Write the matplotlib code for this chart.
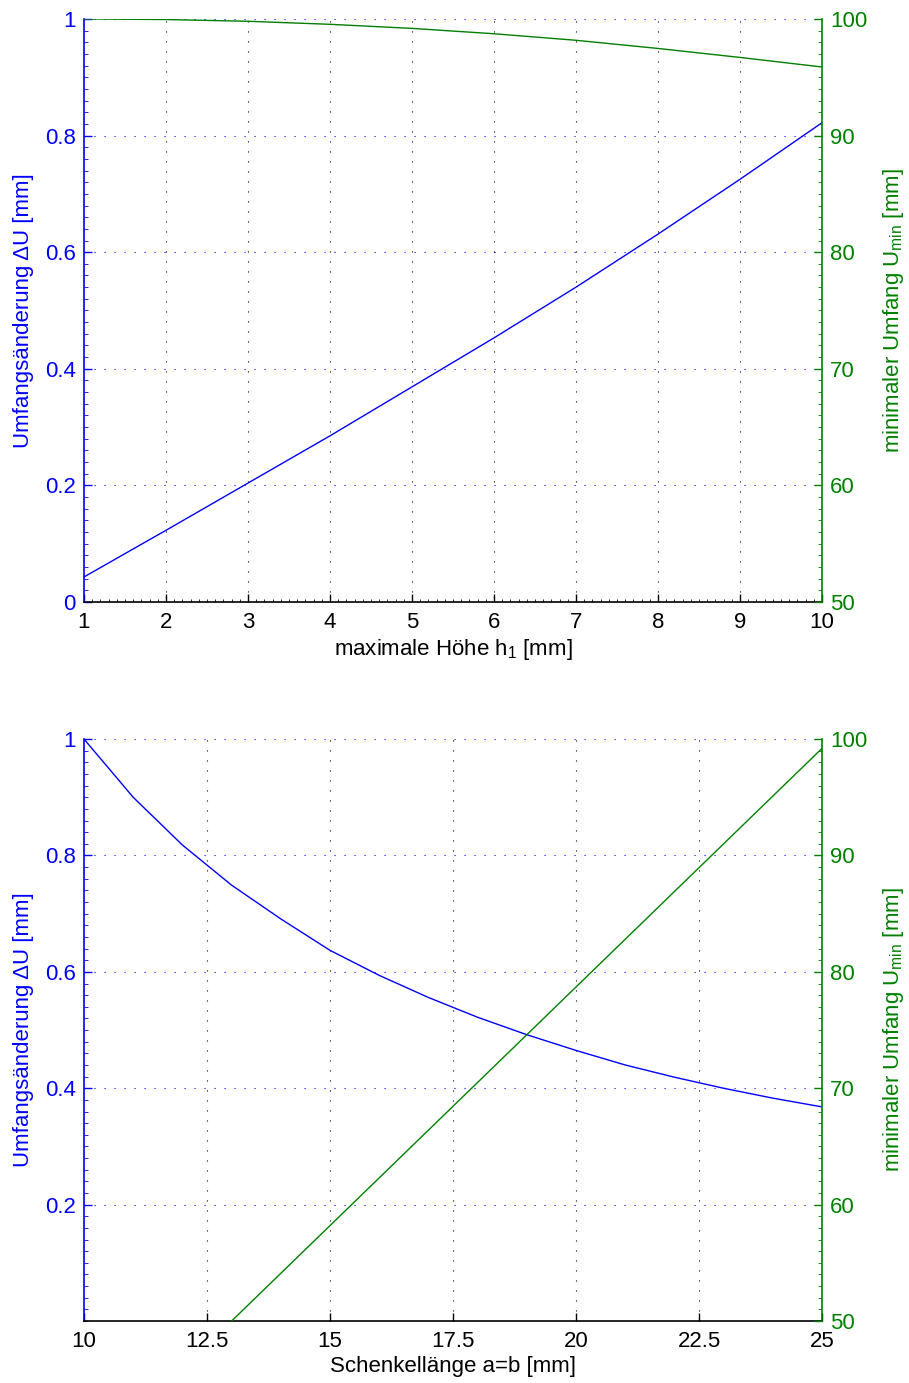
import matplotlib
matplotlib.use("Agg")
import matplotlib.pyplot as plt
from matplotlib.ticker import MultipleLocator, FixedLocator
import numpy as np

plt.rcParams['font.family'] = ['Liberation Sans', 'DejaVu Sans']
plt.rcParams['mathtext.fontset'] = 'custom'
plt.rcParams['mathtext.rm'] = 'Liberation Sans'
plt.rcParams['mathtext.it'] = 'Liberation Sans'

# ---- data: top panel ----
h1 = [1, 2, 3, 4, 5, 6, 7, 8, 9, 10]
dU_h = [0.043, 0.123, 0.204, 0.285, 0.369, 0.453, 0.540, 0.631, 0.725, 0.822]
Umin_h = [100.0, 99.95, 99.8, 99.54, 99.19, 98.73, 98.17, 97.47, 96.7, 95.88]

# ---- data: bottom panel ----
ab = [10, 11, 12, 13, 14, 15, 16, 17, 18, 19, 20, 21, 22, 23, 24, 25]
dU_a = [1.0, 0.900, 0.818, 0.749, 0.691, 0.637, 0.594, 0.556, 0.522, 0.492,
        0.465, 0.440, 0.419, 0.400, 0.383, 0.368]
Umin_a = [37.7, 41.8, 45.9, 50.0, 54.1, 58.2, 62.3, 66.4, 70.5, 74.6,
          78.7, 82.8, 86.9, 91.0, 95.1, 99.2]

top_xticks = [1, 2, 3, 4, 5, 6, 7, 8, 9, 10]
bot_xticks = [10, 12.5, 15, 17.5, 20, 22.5, 25]
bot_xlabels = ['10', '12.5', '15', '17.5', '20', '22.5', '25']
left_ticks_top = [0, 0.2, 0.4, 0.6, 0.8, 1]
left_labels_top = ['0', '0.2', '0.4', '0.6', '0.8', '1']
left_ticks_bot = [0.2, 0.4, 0.6, 0.8, 1]
left_labels_bot = ['0.2', '0.4', '0.6', '0.8', '1']
right_ticks = [50, 60, 70, 80, 90, 100]

BLUE = '#0000ff'
GREEN = '#008000'
FS = 16

fig = plt.figure(figsize=(9.09, 13.83), dpi=100)

def make_panel(rect, x, y1, y2, xlim, xticks, xlabels, ylim1, yt1, yl1, xlabel, xminor):
    ax = fig.add_axes(rect)
    ax2 = ax.twinx()
    ax.plot(x, y1, color=BLUE, lw=1.0, clip_on=True)
    ax2.plot(x, y2, color=GREEN, lw=1.0, clip_on=True)
    ax.set_xlim(*xlim)
    ax.set_ylim(*ylim1)
    ax2.set_ylim(50, 100)
    ax.xaxis.set_major_locator(FixedLocator(xticks))
    ax.set_xticklabels(xlabels, fontsize=FS)
    if xminor:
        ax.xaxis.set_minor_locator(MultipleLocator(xminor))
    ax.yaxis.set_major_locator(FixedLocator(yt1))
    ax.set_yticklabels(yl1, fontsize=FS, color=BLUE)
    ax.yaxis.set_minor_locator(MultipleLocator(0.02))
    ax2.yaxis.set_major_locator(FixedLocator(right_ticks))
    ax2.set_yticklabels([str(t) for t in right_ticks], fontsize=FS, color=GREEN)
    ax2.yaxis.set_minor_locator(MultipleLocator(1))
    # grids
    for xt in xticks[1:-1]:
        ax.axvline(xt, color='black', lw=0.8, ls=(0, (1, 8)), zorder=0)
    for yt in yt1:
        ax.axhline(yt, color=BLUE, lw=0.8, ls=(0, (1, 8)), zorder=0)
    # spines
    for a in (ax, ax2):
        a.spines['top'].set_visible(False)
    ax.spines['left'].set_color(BLUE)
    ax.spines['right'].set_visible(False)
    ax2.spines['left'].set_visible(False)
    ax2.spines['bottom'].set_visible(False)
    ax2.spines['right'].set_color(GREEN)
    ax.spines['bottom'].set_color('black')
    ax.spines['bottom'].set_linewidth(1.2)
    ax.spines['left'].set_linewidth(1.2)
    ax2.spines['right'].set_linewidth(1.2)
    ax.tick_params(axis='x', which='major', direction='in', length=6, width=1.0, pad=7, top=False)
    ax.tick_params(axis='x', which='minor', direction='in', length=2, width=0.6, top=False)
    ax.tick_params(axis='y', which='major', direction='in', length=6, width=1.0, pad=6, colors=BLUE, right=False)
    ax.tick_params(axis='y', which='minor', direction='in', length=3, width=0.6, colors=BLUE, right=False)
    ax2.tick_params(axis='y', which='major', direction='in', length=6, width=1.0, pad=6, colors=GREEN, left=False)
    ax2.tick_params(axis='y', which='minor', direction='in', length=3, width=0.6, colors=GREEN, left=False)
    ax.set_xlabel(xlabel, fontsize=FS, labelpad=3)
    ax.set_ylabel('Umfangsänderung ΔU [mm]', fontsize=FS, color=BLUE, labelpad=8)
    ax2.set_ylabel(r'minimaler Umfang U$_{\mathregular{min}}$ [mm]', fontsize=FS, color=GREEN, labelpad=10)
    return ax, ax2

make_panel([0.0924, 0.5647, 0.8119, 0.4216], h1, dU_h, Umin_h, (1, 10),
           top_xticks, [str(t) for t in top_xticks], (0, 1),
           left_ticks_top, left_labels_top,
           r'maximale Höhe h$_{\mathregular{1}}$ [mm]', 0.1)
make_panel([0.0924, 0.0448, 0.8119, 0.4208], ab, dU_a, Umin_a, (10, 25),
           bot_xticks, bot_xlabels, (0.0, 1),
           left_ticks_bot, left_labels_bot,
           'Schenkellänge a=b [mm]', None)

fig.savefig('out.png', dpi=100)
